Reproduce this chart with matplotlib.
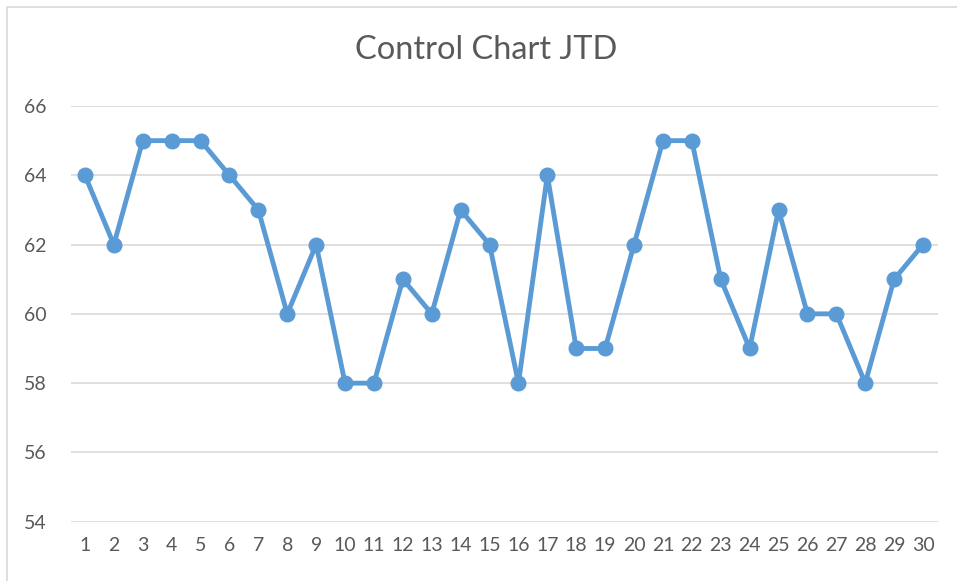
import matplotlib
matplotlib.use("Agg")
import matplotlib.pyplot as plt
from matplotlib.patches import Rectangle

samples = list(range(1, 31))
values = [64, 62, 65, 65, 65, 64, 63, 60, 62, 58, 58, 61, 60, 63, 62,
          58, 64, 59, 59, 62, 65, 65, 61, 59, 63, 60, 60, 58, 61, 62]
y_ticks = [54, 56, 58, 60, 62, 64, 66]
title = "Control Chart JTD"

plt.rcParams['font.family'] = ['Lato', 'DejaVu Sans']
W, H = 957, 581
fig = plt.figure(figsize=(W / 100, H / 100), dpi=100)
fig.patches.append(Rectangle((7 / W, -0.1), 1.2, 1 - 7 / H + 0.1, transform=fig.transFigure,
                             fill=False, edgecolor='#d9d9d9', linewidth=1.2))
ax = fig.add_axes([70.5 / W, 59.3 / H, (937.5 - 70.5) / W, (521.7 - 106) / H])
ax.plot(samples, values, color='#5B9BD5', linewidth=3.5, marker='o', markersize=10.5,
        solid_joinstyle='round', zorder=3)
ax.set_xlim(0.5, 30.5)
ax.set_ylim(54, 66)
ax.set_yticks(y_ticks)
ax.set_xticks(samples)
ax.grid(axis='y', color='#d9d9d9', linewidth=1.2)
for s in ax.spines.values():
    s.set_visible(False)
ax.tick_params(length=0, labelsize=14, colors='#595959', pad=11)
ax.tick_params(axis='y', pad=17)
fig.text(486 / W, 1 - 50 / H, title, ha='center', va='center', fontsize=23.5, color='#595959')
fig.savefig('out.png', dpi=100)
